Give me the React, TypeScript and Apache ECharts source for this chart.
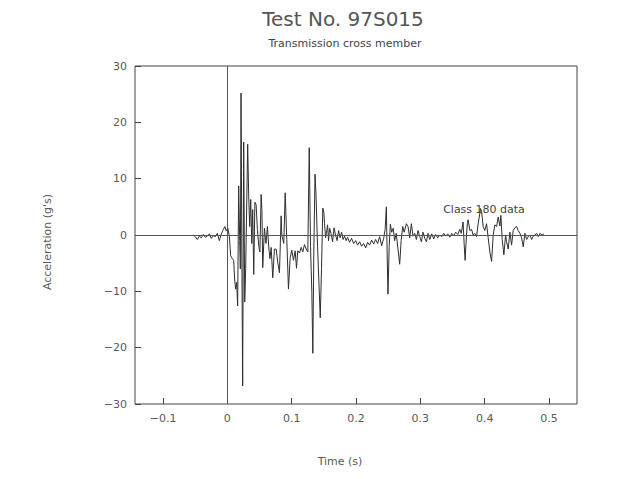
import React, { useEffect, useRef } from "react";
import * as echarts from "echarts";

const titleText = "Test No. 97S015";
const subtitleText = "Transmission cross member";
const xAxisTitle = "Time (s)";
const yAxisTitle = "Acceleration (g's)";
const annotationText = "Class 180 data";

const xTicks = [-0.1, 0, 0.1, 0.2, 0.3, 0.4, 0.5];
const yTicks = [-30, -20, -10, 0, 10, 20, 30];

const times = [
  -0.053, -0.0498, -0.0467, -0.0436, -0.0405, -0.0374, -0.0343, -0.0312, -0.028, -0.0249,
  -0.0218, -0.0187, -0.0156, -0.0125, -0.0093, -0.0062, -0.0039, -0.0016, 0.0008, 0.0031,
  0.0051, 0.0078, 0.0098, 0.0114, 0.0129, 0.0145, 0.016, 0.0176, 0.0192, 0.0202,
  0.0213, 0.0226, 0.0238, 0.0254, 0.027, 0.0285, 0.0316, 0.0332, 0.0347, 0.0363,
  0.0379, 0.0394, 0.041, 0.0428, 0.0447, 0.0467, 0.0491, 0.0506, 0.0525, 0.0537,
  0.055, 0.0576, 0.06, 0.0623, 0.0646, 0.0662, 0.0681, 0.0706, 0.0732, 0.0759,
  0.0783, 0.081, 0.0836, 0.0846, 0.0877, 0.0899, 0.0924, 0.095, 0.0977, 0.1002,
  0.1028, 0.1054, 0.1075, 0.1095, 0.1121, 0.1148, 0.1173, 0.1199, 0.1226, 0.1251,
  0.1273, 0.1293, 0.1313, 0.1329, 0.1344, 0.1363, 0.1379, 0.1402, 0.1422, 0.1444,
  0.1464, 0.1484, 0.15, 0.1511, 0.1526, 0.1542, 0.1558, 0.1573, 0.1589, 0.1612,
  0.1636, 0.1659, 0.1682, 0.1706, 0.1729, 0.1752, 0.1776, 0.1799, 0.1822, 0.1846,
  0.1869, 0.19, 0.1931, 0.1963, 0.1994, 0.2025, 0.2056, 0.2087, 0.2118, 0.215,
  0.2181, 0.2212, 0.2243, 0.2274, 0.2305, 0.2336, 0.2368, 0.2399, 0.243, 0.2453,
  0.2472, 0.2484, 0.2497, 0.2516, 0.2534, 0.2555, 0.2578, 0.2601, 0.2625, 0.2653,
  0.2679, 0.2702, 0.2726, 0.2749, 0.2783, 0.2809, 0.2835, 0.2861, 0.2886, 0.2913,
  0.2939, 0.2964, 0.2991, 0.3017, 0.3042, 0.3069, 0.3095, 0.312, 0.3146, 0.3178,
  0.3209, 0.324, 0.3271, 0.3302, 0.3333, 0.3364, 0.3396, 0.3427, 0.3458, 0.3489,
  0.352, 0.3551, 0.3583, 0.3614, 0.3637, 0.3665, 0.3681, 0.3696, 0.3718, 0.3731,
  0.3743, 0.377, 0.3796, 0.3821, 0.3847, 0.3874, 0.3899, 0.3925, 0.3936, 0.3952,
  0.3977, 0.4003, 0.403, 0.4055, 0.4081, 0.4108, 0.4133, 0.4159, 0.4186, 0.4211,
  0.4237, 0.4252, 0.4273, 0.4299, 0.4326, 0.4341, 0.4366, 0.4393, 0.4419, 0.4444,
  0.4471, 0.4497, 0.4522, 0.4548, 0.4575, 0.46, 0.4626, 0.4653, 0.4678, 0.4704,
  0.4731, 0.4756, 0.4782, 0.4809, 0.4834, 0.486, 0.4891, 0.4922,
];

const accel = [
  0, -0.3, -0.8, -0.2, -0.5, 0.1, -0.4, -0.2, 0.2, -0.6,
  -0.1, -0.3, 0.3, -1.0, 0.2, 1.0, 1.5, 0.7, 1.2, -0.2,
  -3.7, -4.2, -4.5, -8.0, -9.6, -8.4, -12.6, 8.7, -1.0, -6.0,
  25.2, -5.0, -26.8, 16.5, -11.9, -6.0, 16.1, 6.9, 1.5, 6.3,
  -1.5, 4.5, -7.0, 5.8, 5.4, 1.0, -2.2, -3.0, 7.2, 4.5,
  -5.8, 1.2, -1.5, 1.5, -2.5, -4.2, -2.2, -7.6, -2.5, -2.5,
  -4.8, -6.7, 3.4, 0, -1.5, 7.5, -0.8, -9.6, -4.0, -2.7,
  -4.5, -2.8, -5.9, -2.8, -3.2, -2.2, -3.0, -1.7, -2.5, -3.0,
  15.5, -2.0, -10.0, -21.0, -3.0, 10.8, 7.0, -2.0, -8.0, -14.7,
  -6.0, 4.8, 4.0, 2.0, -0.5, 0.5, 1.8, -1.0, 1.2, 0.3,
  -1.2, 1.3, 0, -1.0, 0.8, -0.5, 0.5, -0.8, -0.2, -1.0,
  -0.4, -1.3, -0.6, -1.5, -1.0, -1.8, -1.2, -2.0, -1.5, -2.3,
  -1.3, -1.8, -0.9, -1.6, -0.8, -1.5, -0.3, -1.9, -0.6, 1.0,
  5.0, -3.0, -10.5, -2.0, 1.9, 0.5, 1.2, -1.0, 0.3, -2.5,
  -5.2, -1.0, 1.5, 0.5, 2.0, 1.5, -0.5, 2.0, -0.2, 0.3,
  -0.8, 0.8, -0.3, -1.2, 0.5, -0.6, -1.2, 0.3, -0.8, 0.2,
  -0.7, 0.1, -0.5, 0, -0.3, 0.3, -0.2, 0.2, -0.4, 0.3,
  -0.1, 0.5, 0.1, 1.0, 0.3, 2.3, -1.5, -4.5, 0, 2.0,
  2.7, 0.8, 1.0, 0, 0.3, -0.3, 2.0, 3.8, 4.7, 4.2,
  1.5, 0.8, 2.0, -0.5, -3.0, -4.7, 0, 1.8, 1.5, 3.2,
  1.6, 3.5, -0.8, -3.5, 0, -1.2, -2.5, 0.5, -1.8, 0.8,
  1.3, 1.5, 0.8, 0.3, -0.5, -2.1, 0.3, -0.8, -0.3, 0,
  -0.8, -0.2, 0, 0.3, -0.3, 0.3, 0, 0.2,
];

const FONT = "'DejaVu Sans', sans-serif";
const TEXT_COLOR = "#5a5a5a";

const fmt = (v: number) => {
  const r = Math.round(v * 1000) / 1000;
  return r < 0 ? "\u2212" + String(-r) : String(r);
};

export default function App() {
  const ref = useRef<HTMLDivElement>(null);

  useEffect(() => {
    if (!ref.current) return;
    const chart = echarts.init(ref.current, null, { renderer: "svg" });
    const data = times.map((t, i) => [t, accel[i]]);

    chart.setOption({
      animation: false,
      backgroundColor: "#ffffff",
      grid: {
        left: 135,
        top: 66,
        width: 442,
        height: 338,
        show: true,
        borderColor: "#444",
        borderWidth: 1,
        backgroundColor: "transparent",
      },
      xAxis: {
        type: "value",
        min: -0.1436,
        max: 0.5436,
        splitLine: { show: false },
        axisLine: { show: false, onZero: false },
        axisTick: {
          show: true,
          inside: true,
          length: 6,
          customValues: xTicks,
          lineStyle: { color: "#444" },
        },
        axisLabel: {
          show: true,
          customValues: xTicks,
          formatter: (v: number) => fmt(v),
          color: TEXT_COLOR,
          fontFamily: FONT,
          fontSize: 11,
          margin: 9,
        },
      },
      yAxis: {
        type: "value",
        min: -30,
        max: 30,
        interval: 10,
        splitLine: { show: false },
        axisLine: { show: false, onZero: false },
        axisTick: {
          show: true,
          inside: true,
          length: 6,
          customValues: yTicks,
          lineStyle: { color: "#444" },
        },
        axisLabel: {
          show: true,
          customValues: yTicks,
          formatter: (v: number) => fmt(v),
          color: TEXT_COLOR,
          fontFamily: FONT,
          fontSize: 11,
          margin: 8,
        },
      },
      series: [
        {
          type: "line",
          data,
          showSymbol: false,
          symbol: "none",
          lineStyle: { color: "#2e2e2e", width: 1 },
          markLine: {
            silent: true,
            symbol: "none",
            label: { show: false },
            lineStyle: { color: "#555", width: 1, type: "solid" },
            data: [{ yAxis: 0 }, { xAxis: 0 }],
          },
        },
      ],
      graphic: [
        {
          type: "text",
          style: {
            text: titleText,
            x: 343,
            y: 19,
            textAlign: "center",
            textVerticalAlign: "middle",
            fill: "#555",
            font: `20px ${FONT}`,
          },
        },
        {
          type: "text",
          style: {
            text: subtitleText,
            x: 345,
            y: 43,
            textAlign: "center",
            textVerticalAlign: "middle",
            fill: "#444",
            font: `11px ${FONT}`,
          },
        },
        {
          type: "text",
          style: {
            text: xAxisTitle,
            x: 340,
            y: 461,
            textAlign: "center",
            textVerticalAlign: "middle",
            fill: TEXT_COLOR,
            font: `11px ${FONT}`,
          },
        },
        {
          type: "text",
          x: 47,
          y: 242,
          rotation: Math.PI / 2,
          style: {
            text: yAxisTitle,
            x: 0,
            y: 0,
            textAlign: "center",
            textVerticalAlign: "middle",
            fill: TEXT_COLOR,
            font: `11px ${FONT}`,
          },
        },
        {
          type: "text",
          style: {
            text: annotationText,
            x: 484,
            y: 209,
            textAlign: "center",
            textVerticalAlign: "middle",
            fill: "#444",
            font: `11px ${FONT}`,
          },
        },
      ],
    });

    return () => chart.dispose();
  }, []);

  return <div ref={ref} style={{ width: 628, height: 479, position: "absolute", left: 0, top: 0 }} />;
}
